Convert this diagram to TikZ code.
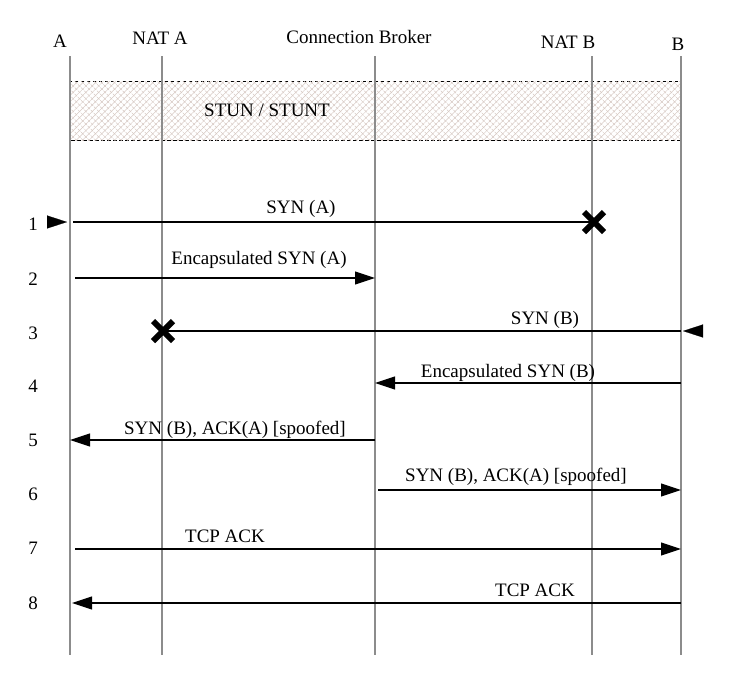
\documentclass[tikz,border=0pt]{standalone}
\usepackage{fontspec}
\setmainfont{Liberation Serif}
\usepackage{tikz}
\usetikzlibrary{positioning}
\usetikzlibrary{calc}
\usetikzlibrary{patterns.meta}
\usetikzlibrary{arrows.meta}
\colorlet{linecol}{black!45}
\colorlet{hatchcol}{red!25!brown!30!gray!40}
\tikzstyle{actor}=[font=\fontsize{19}{21}\selectfont,inner sep=0]
\tikzstyle{label}=[font=\fontsize{19}{21}\selectfont,inner sep=0]
\tikzstyle{lifeline}=[linecol,line width=2.2]
\tikzstyle{thinline}=[linecol,line width=1.3]
\tikzstyle{msg}=[line width=1.1,-{Triangle[length=20,width=13]}]
\tikzstyle{plain}=[line width=1.1]
\tikzstyle{tip}=[line width=0.1,-{Triangle[length=20,width=13]}]
\tikzstyle{blocked}=[line width=6]
\tikzstyle{stun}=[dashed,line width=0.8,dash pattern=on 3.5pt off 2.5pt,
                  preaction={pattern={Lines[angle=45,distance=4.5,line width=0.5]},pattern color=hatchcol},
                  postaction={pattern={Lines[angle=-45,distance=4.5,line width=0.5]},pattern color=hatchcol}]
\def\cross#1{\draw[blocked] (#1)++(-10,-10) -- ++(20,20) (#1)++(-10,10) -- ++(20,-20)}

\begin{document}
\begin{tikzpicture}[x=1pt,y=-1pt]
  \useasboundingbox (0,0) rectangle (742,681);
  \def\top{56}    % lifeline start
  \def\bot{655}   % lifeline end

  % ACTORS
  \node[actor] (A)   at (60,41)  {A};
  \node[actor] (NA)  at (160,38) {NAT A};
  \node[actor] (CB)  at (359,37) {Connection Broker};
  \node[actor] (NB)  at (568,42) {NAT B};
  \node[actor] (B)   at (678,44) {B};

  % LIFELINES
  \coordinate (lA) at (70,0);
  \coordinate (lNA) at (162,0);
  \coordinate (lCB) at (375,0);
  \coordinate (lNB) at (592,0);
  \coordinate (lB) at (681,0);

  % STUN BOX
  \draw[stun] (70,81) rectangle (681,140);
  \node[label] (stunlbl) at (267,110) {STUN / STUNT};

  \draw[lifeline] (lA |- 0,\top) -- (lA |- 0,\bot);
  \draw[lifeline] (lNA |- 0,\top) -- (lNA |- 0,\bot);
  \draw[thinline] (lCB |- 0,\top) -- (lCB |- 0,\bot);
  \draw[lifeline] (lNB |- 0,\top) -- (lNB |- 0,\bot);
  \draw[thinline] (lB |- 0,\top) -- (lB |- 0,\bot);

  % STEPS
  \foreach \i/\y in {1/224,2/279,3/333,4/386,5/440,6/494,7/548,8/603}
    \node[label] (n\i) at (33,\y) {\i};

  \coordinate (r1) at (0,222);
  \coordinate (r2) at (0,278);
  \coordinate (r3) at (0,331);
  \coordinate (r4) at (0,383);
  \coordinate (r5) at (0,440);
  \coordinate (r6) at (0,490);
  \coordinate (r7) at (0,549);
  \coordinate (r8) at (0,603);

  % 1
  \draw[plain] ($(lA |- r1)+(3,0)$) -- (lNB |- r1);
  \cross{$(lNB |- r1)+(2,0)$};
  \draw[tip] ($(lA |- r1)+(-23,0)$) -- ($(lA |- r1)+(-3,0)$);
  \node[label] (m1) at (301,209) {SYN (A)};
  % 2
  \draw[msg] ($(lA |- r2)+(5,0)$) -- (lCB |- r2);
  \node[label] (m2) at (259,260) {Encapsulated SYN (A)};
  % 3
  \draw[plain] (lNA |- r3) -- (lB |- r3);
  \cross{$(lNA |- r3)+(1,0)$};
  \draw[tip] ($(lB |- r3)+(21,0)$) -- ($(lB |- r3)+(2,0)$);
  \node[label] (m3) at (545,320) {SYN (B)};
  % 4
  \draw[msg] (lB |- r4) -- (lCB |- r4);
  \node[label] (m4) at (508,373) {Encapsulated SYN (B)};
  % 5
  \draw[msg] (lCB |- r5) -- (lA |- r5);
  \node[label] (m5) at (235,430) {SYN (B), ACK(A) [spoofed]};
  % 6
  \draw[msg] ($(lCB |- r6)+(3,0)$) -- (lB |- r6);
  \node[label] (m6) at (516,477) {SYN (B), ACK(A) [spoofed]};
  % 7
  \draw[msg] ($(lA |- r7)+(5,0)$) -- (lB |- r7);
  \node[label] (m7) at (225,536) {TCP ACK};
  % 8
  \draw[msg] (lB |- r8) -- ($(lA |- r8)+(2,0)$);
  \node[label] (m8) at (535,590) {TCP ACK};

\end{tikzpicture}
\end{document}
